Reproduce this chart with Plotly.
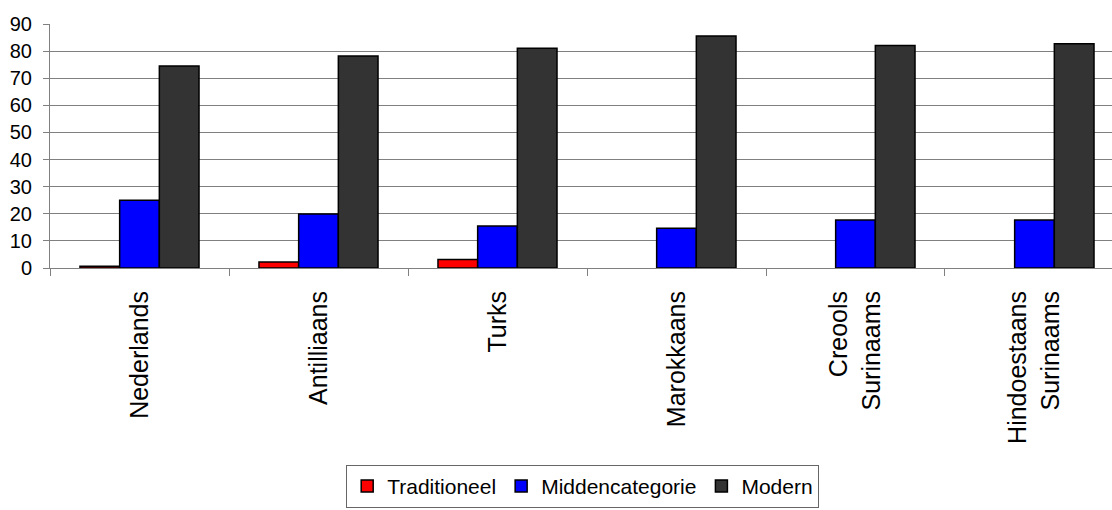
import plotly.graph_objects as go

# Categories and series values (percentages); None = no bar for that group
categories = ["Nederlands", "Antilliaans", "Turks", "Marokkaans",
              "Creools<br>Surinaams", "Hindoestaans<br>Surinaams"]
traditioneel = [0.6, 2.2, 3.1, None, None, None]
middencategorie = [25.0, 19.9, 15.5, 14.7, 17.7, 17.7]
modern = [74.5, 78.2, 81.1, 85.6, 82.1, 82.7]
y_ticks = [0, 10, 20, 30, 40, 50, 60, 70, 80, 90]

FONT = "Liberation Sans, Arial, sans-serif"
outline = dict(color="#000000", width=1.5)

fig = go.Figure()
fig.add_trace(go.Bar(name="Traditioneel", x=categories, y=traditioneel,
                     marker=dict(color="#FF0000", line=outline)))
fig.add_trace(go.Bar(name="Middencategorie", x=categories, y=middencategorie,
                     marker=dict(color="#0000FF", line=outline)))
fig.add_trace(go.Bar(name="Modern", x=categories, y=modern,
                     marker=dict(color="#333333", line=outline)))

fig.update_layout(
    width=1112, height=510,
    margin=dict(l=50, r=0, t=24, b=242, autoexpand=False),
    paper_bgcolor="white", plot_bgcolor="white",
    barmode="group", bargap=0.335, bargroupgap=0,
    font=dict(family=FONT, color="#000000"),
    showlegend=True,
    legend=dict(
        orientation="h", xref="container", yref="container",
        x=0.524, xanchor="center", y=0.004, yanchor="bottom",
        font=dict(size=21, family=FONT), bordercolor="#666666", borderwidth=1,
        itemwidth=30, traceorder="normal", tracegroupgap=0,
    ),
    xaxis=dict(
        type="category", range=[-0.5, 5.433],
        tickangle=-90, tickfont=dict(size=25, family=FONT),
        showline=True, linecolor="#808080", linewidth=1,
        ticks="outside", tickson="boundaries", ticklen=7, tickcolor="#808080",
        ticklabelstandoff=12,
        showgrid=False,
    ),
    yaxis=dict(
        range=[0, 90], tickvals=y_ticks, tickfont=dict(size=20, family=FONT),
        showline=True, linecolor="#808080", linewidth=1,
        ticks="outside", ticklen=6, tickcolor="#808080",
        ticklabelstandoff=7,
        showgrid=True, gridcolor="#808080", gridwidth=1,
        zeroline=False,
    ),
)

fig.write_html("out.html")
